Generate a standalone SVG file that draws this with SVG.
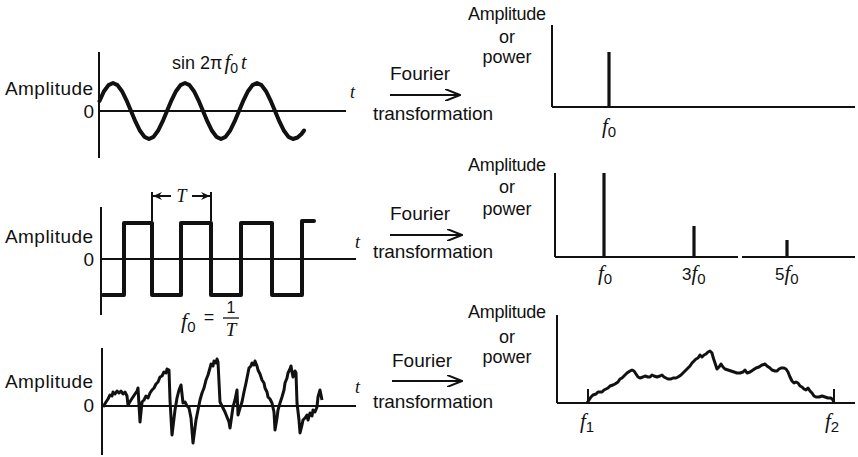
<svg xmlns="http://www.w3.org/2000/svg" width="858" height="457" viewBox="0 0 858 457">
<style>
.sans{font-family:"Liberation Sans",Arial,sans-serif;fill:#111}
.lbl{font-size:19px}
.rl{font-size:18px}
.it{font-family:"Liberation Serif","Times New Roman",serif;font-style:italic;fill:#111}
.ax{stroke:#111;stroke-width:2;fill:none}
.sig{stroke:#111;stroke-width:4;fill:none;stroke-linejoin:round;stroke-linecap:round}
.noise{stroke:#111;stroke-width:3;fill:none;stroke-linejoin:round}
.spk{stroke:#111;stroke-width:3.2}
.arr{stroke:#111;stroke-width:2;fill:none}
</style>
<defs>
<marker id="chev" viewBox="0 0 16 12" refX="15" refY="6" markerWidth="16" markerHeight="12" markerUnits="userSpaceOnUse" orient="auto">
<path d="M0,0 L15,6 L0,12" fill="none" stroke="#111" stroke-width="2"/>
</marker>
<marker id="small" viewBox="0 0 10 8" refX="9" refY="4" markerWidth="10" markerHeight="8" markerUnits="userSpaceOnUse" orient="auto">
<path d="M0,0 L9,4 L0,8 L3,4 Z" fill="#111"/>
</marker>
</defs>

<g id="sine-signal">
<line class="ax" x1="99" y1="52" x2="99" y2="158"/>
<line class="ax" x1="99" y1="111" x2="346" y2="111"/>
<text class="sans lbl" x="5" y="95" textLength="88">Amplitude</text>
<text class="sans lbl" x="94" y="118" text-anchor="end">0</text>
<text class="it" x="350" y="98" font-size="18">t</text>
<text class="sans" x="172" y="69" font-size="18">sin 2π<tspan class="it" font-size="21" dx="2">f</tspan><tspan class="sans" font-size="14" dy="4">0</tspan><tspan class="it" font-size="20" dy="-4" dx="3">t</tspan></text>
<polyline class="sig" points="99.5,101 104,91.2 108.5,85.1 113,83 117.5,85.1 122,91.2 126.5,100.3 131,111 135.5,121.7 140,130.8 144.5,136.9 149,139 153.5,136.9 158,130.8 162.5,121.7 167,111 171.5,100.3 176,91.2 180.5,85.1 185,83 189.5,85.1 194,91.2 198.5,100.3 203,111 207.5,121.7 212,130.8 216.5,136.9 221,139 225.5,136.9 230,130.8 234.5,121.7 239,111 243.5,100.3 248,91.2 252.5,85.1 257,83 261.5,85.1 266,91.2 270.5,100.3 275,111 279.5,121.7 284,130.8 288.5,136.9 293,139 297.5,137.5 301.5,134 304,130.5"/>
</g>

<g id="square-signal">
<line class="ax" x1="101" y1="207" x2="101" y2="315"/>
<line class="ax" x1="101" y1="259" x2="356" y2="259"/>
<text class="sans lbl" x="5" y="243" textLength="88">Amplitude</text>
<text class="sans lbl" x="94" y="266" text-anchor="end">0</text>
<text class="it" x="355" y="248" font-size="18">t</text>
<polyline class="sig" stroke-width="3.6" stroke-linecap="butt" stroke-linejoin="miter" points="103,295 124,295 124,223 152,223 152,295 181,295 181,223 211,223 211,295 241,295 241,223 272,223 272,295 302,295 302,221 314,221"/>
<line class="arr" stroke-width="1.5" x1="152" y1="192" x2="152" y2="221"/>
<line class="arr" stroke-width="1.5" x1="211" y1="192" x2="211" y2="221"/>
<line class="arr" stroke-width="1.8" x1="171" y1="196" x2="153" y2="196" marker-end="url(#small)"/>
<line class="arr" stroke-width="1.8" x1="192" y1="196" x2="210" y2="196" marker-end="url(#small)"/>
<text class="it" x="181.5" y="202" font-size="18" text-anchor="middle">T</text>
<text class="it" x="181" y="328" font-size="22">f<tspan class="sans" font-size="15" font-style="normal" dy="4">0</tspan></text>
<text class="sans" x="209" y="323" font-size="18" text-anchor="middle">=</text>
<text class="sans" x="231" y="313" font-size="16" text-anchor="middle">1</text>
<line x1="223" y1="318" x2="239" y2="318" stroke="#111" stroke-width="1.3"/>
<text class="it" x="231" y="336" font-size="19" text-anchor="middle">T</text>
</g>

<g id="random-signal">
<line class="ax" x1="102" y1="348" x2="102" y2="455"/>
<line class="ax" x1="102" y1="406" x2="356" y2="406"/>
<text class="sans lbl" x="5" y="388" textLength="88">Amplitude</text>
<text class="sans lbl" x="94" y="412" text-anchor="end">0</text>
<text class="it" x="355" y="393" font-size="18">t</text>
<polyline class="noise" points="103,407 106,402 108,399 110,395 112,396 113,392 115,394 117,391 119,393 121,391 123,394 125,392 127,396 128,405 131,400 133,397 135,394 137,391 138,388 140,422 142,402 144,400 146,396 148,398 150,393 152,390 154,388 156,384 158,382 160,377 162,376 164,372 166,373 167,369 169,370 170,400 172,435 175,410 177,398 179,390 181,385 183,403 185,402 187,406 189,408 191,418 193,443 196,420 198,410 200,400 202,393 204,388 206,380 208,375 210,368 211,364 213,366 214,361 216,363 217,359 218,362 220,402 223,408 225,412 227,417 229,422 230,428 233,407 235,400 237,390 238,415 240,408 242,402 244,392 246,383 248,373 249,368 251,366 252,363 254,365 255,361 257,366 258,370 260,374 262,380 264,383 265,388 267,392 268,397 270,399 272,403 274,412 275,430 277,418 278,410 280,403 282,397 284,390 285,383 287,378 288,373 290,369 291,366 292,372 293,377 295,371 296,373 297,403 299,420 300,433 302,425 303,420 305,418 307,415 308,420 310,413 312,416 313,410 315,412 317,407 318,397 320,390 322,400"/>
</g>

<g id="connectors">
<line class="arr" x1="390" y1="95" x2="460" y2="95" marker-end="url(#chev)"/>
<line class="arr" x1="390" y1="235" x2="462" y2="235" marker-end="url(#chev)"/>
<line class="arr" x1="392" y1="381" x2="462" y2="381" marker-end="url(#chev)"/>
</g>

<g id="fourier-labels">
<text class="sans lbl" x="390" y="80">Fourier</text>
<text class="sans lbl" x="373" y="120" textLength="120">transformation</text>
<text class="sans lbl" x="390" y="220">Fourier</text>
<text class="sans lbl" x="373" y="258" textLength="120">transformation</text>
<text class="sans lbl" x="392" y="367">Fourier</text>
<text class="sans lbl" x="373" y="408" textLength="120">transformation</text>
</g>

<g id="line-spectrum">
<line class="ax" x1="552" y1="25" x2="552" y2="107"/>
<line class="ax" stroke-width="2.4" x1="552" y1="107" x2="855" y2="107"/>
<line class="spk" x1="609" y1="52" x2="609" y2="107"/>
<text class="sans rl" x="507" y="20" text-anchor="middle" textLength="78">Amplitude</text>
<text class="sans rl" x="507" y="43" text-anchor="middle">or</text>
<text class="sans rl" x="507" y="63" text-anchor="middle">power</text>
<text class="it" x="602" y="133" font-size="21">f<tspan class="sans" font-style="normal" font-size="15" dy="4">0</tspan></text>
</g>

<g id="harmonic-spectrum">
<line class="ax" x1="555" y1="173" x2="555" y2="257"/>
<line class="ax" stroke-width="2.4" x1="555" y1="257" x2="738" y2="257"/>
<line class="ax" stroke-width="2.4" x1="742" y1="257" x2="855" y2="257"/>
<line class="spk" x1="604" y1="173" x2="604" y2="257"/>
<line class="spk" x1="694" y1="226" x2="694" y2="257"/>
<line class="spk" x1="787" y1="240" x2="787" y2="257"/>
<text class="sans rl" x="507" y="171" text-anchor="middle" textLength="78">Amplitude</text>
<text class="sans rl" x="507" y="193" text-anchor="middle">or</text>
<text class="sans rl" x="507" y="215" text-anchor="middle">power</text>
<text class="it" x="598" y="280" font-size="21">f<tspan class="sans" font-style="normal" font-size="15" dy="4">0</tspan></text>
<text class="sans" x="682" y="280" font-size="17">3<tspan class="it" font-size="21">f</tspan><tspan font-size="15" dy="4">0</tspan></text>
<text class="sans" x="775" y="280" font-size="17">5<tspan class="it" font-size="21">f</tspan><tspan font-size="15" dy="4">0</tspan></text>
</g>

<g id="continuous-spectrum">
<line class="ax" x1="557" y1="315" x2="557" y2="403"/>
<line class="ax" stroke-width="2.4" x1="557" y1="403" x2="855" y2="403"/>
<line class="ax" stroke-width="1.5" x1="588" y1="389" x2="588" y2="403"/>
<line class="ax" stroke-width="1.5" x1="834" y1="389" x2="834" y2="403"/>
<polyline class="noise" stroke-width="3.2" points="587,403 589,400 591,397 593,395 596,394 598,392 600,392 602,392 604,390 606,389 608,388 610,386 613,385 615,384 618,382 620,379 622,378 625,375 627,373 630,371 632,370 634,371 636,374 638,377 640,378 643,377 645,376 648,377 650,377 652,375 654,376 657,377 660,376 662,375 664,377 666,378 668,379 671,379 673,378 676,378 678,377 681,375 683,373 686,370 688,368 690,366 692,363 694,361 696,359 698,358 700,355 702,357 704,355 706,354 708,352 710,351 712,353 713,357 715,363 717,369 719,367 721,364 723,367 725,369 728,370 731,371 734,372 737,373 740,373 743,372 745,370 747,373 750,372 753,370 756,368 759,367 762,365 765,364 767,366 770,368 772,370 775,371 777,371 779,369 781,368 784,368 786,369 788,372 790,377 792,381 794,383 796,382 798,383 800,386 802,387 804,389 806,390 808,388 810,391 812,393 814,396 816,397 819,397 822,396 825,397 828,398 831,398 833,400 834,403"/>
<text class="sans rl" x="507" y="318" text-anchor="middle" textLength="78">Amplitude</text>
<text class="sans rl" x="507" y="343" text-anchor="middle">or</text>
<text class="sans rl" x="507" y="363" text-anchor="middle">power</text>
<text class="it" x="580" y="428" font-size="21">f<tspan class="sans" font-style="normal" font-size="15" dy="4">1</tspan></text>
<text class="it" x="825" y="428" font-size="21">f<tspan class="sans" font-style="normal" font-size="15" dy="4">2</tspan></text>
</g>
</svg>
